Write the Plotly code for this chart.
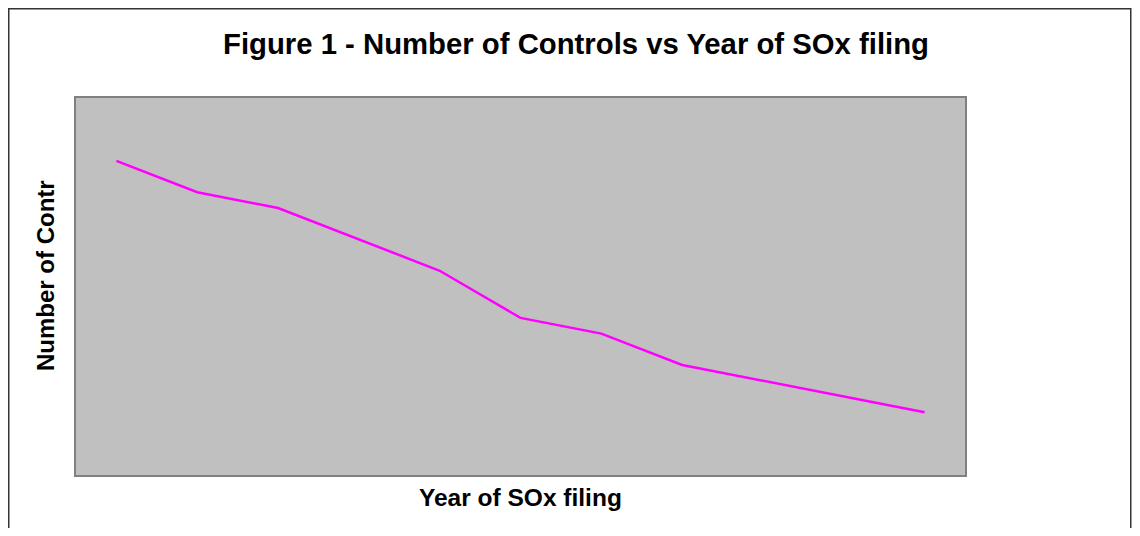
import plotly.graph_objects as go

# Data (no axis labels shown)
years = ["1", "2", "3", "4", "5", "6", "7", "8", "9", "10", "11"]
controls = [20, 18, 17, 15, 13, 10, 9, 7, 6, 5, 4]

# The page body has an 8px default margin, so the figure is laid out
# in coordinates shifted by 8px from the screenshot.
OFF = 8
W, H = 1140 - OFF, 536 - 2 * OFF
ml, mr = 76 - OFF, (W + OFF) - 965
mt, mb = 98 - OFF, (H + OFF) - 475
pw, ph = W - ml - mr, H - mt - mb

fig = go.Figure()
fig.add_trace(go.Scatter(
    x=years, y=controls, mode="lines",
    line=dict(color="#FF00FF", width=2.5),
    hoverinfo="skip", showlegend=False,
))

def px_x(p):
    return (p - OFF - ml) / pw

def px_y(p):
    return (H - mb - (p - OFF)) / ph

fig.update_layout(
    width=W, height=H,
    margin=dict(l=ml, r=mr, t=mt, b=mb, autoexpand=False),
    paper_bgcolor="white",
    plot_bgcolor="#C0C0C0",
    font=dict(family="Liberation Sans, Arial", color="black"),
    title=dict(
        text="<b>Figure 1 - Number of Controls vs Year of SOx filing</b>",
        x=(576 - OFF) / W, xanchor="center", xref="container",
        y=1 - (44 - OFF) / H, yanchor="middle", yref="container",
        font=dict(size=29.3, family="Liberation Sans, Arial"),
    ),
    xaxis=dict(
        type="category", range=[-0.5, len(years) - 0.5],
        showticklabels=False, ticks="", showgrid=False, zeroline=False,
        showline=True, linecolor="#808080", linewidth=2, mirror=True,
        fixedrange=True,
    ),
    yaxis=dict(
        range=[0, 24], showticklabels=False, ticks="", showgrid=False,
        zeroline=False, showline=True, linecolor="#808080", linewidth=2,
        mirror=True, fixedrange=True,
    ),
)

# X axis title
fig.add_annotation(
    text="<b>Year of SOx filing</b>", xref="paper", yref="paper",
    x=0.5, y=px_y(497), xanchor="center", yanchor="middle", showarrow=False,
    font=dict(size=24.5, family="Liberation Sans, Arial"),
)
# Y axis title (clipped in the original)
fig.add_annotation(
    text="<b>Number of Contr</b>", xref="paper", yref="paper",
    x=px_x(45), y=px_y(276), xanchor="center", yanchor="middle",
    textangle=-90, showarrow=False,
    font=dict(size=24, family="Liberation Sans, Arial"),
)

# Outer chart frame
fig.add_shape(
    type="rect", xref="paper", yref="paper",
    x0=px_x(8.75), x1=px_x(1130.75), y0=px_y(545), y1=px_y(8.75),
    line=dict(color="#333333", width=1.5), fillcolor="rgba(0,0,0,0)",
    layer="above",
)

fig.write_html("out.html", config={"displayModeBar": False})
